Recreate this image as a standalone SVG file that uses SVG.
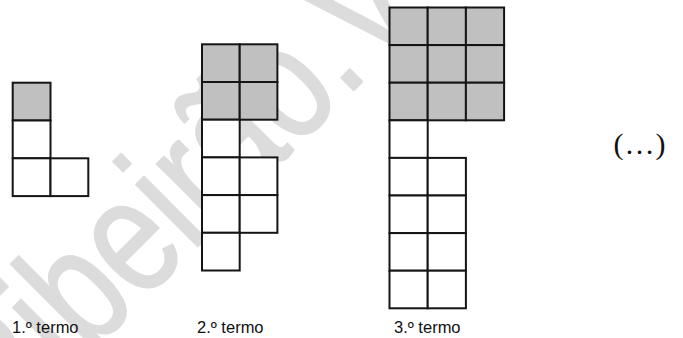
<svg xmlns="http://www.w3.org/2000/svg" width="683" height="338" viewBox="0 0 683 338">
<style>
.c{stroke:#151515;stroke-width:2;fill:#ffffff}
.g{stroke:#151515;stroke-width:2;fill:#c0c0c0}
.lbl{font-family:"Liberation Sans",Arial,sans-serif;font-size:16.5px;fill:#111}
.wm{font-family:"Liberation Sans",Arial,sans-serif;font-size:165px;fill:#dcdcdc;stroke:#dcdcdc;stroke-width:2;stroke-linejoin:round;stroke-linecap:round}
.etc{font-family:"Liberation Serif","Times New Roman",serif;font-size:30px;letter-spacing:1px;fill:#111}
</style>
<rect width="683" height="338" fill="#ffffff"/>
<text class="wm" transform="translate(2,442) rotate(-45) scale(0.79,1)">Ribeirão.V</text>
<g id="termo1">
<rect class="g" x="12.7" y="82.7" width="37.8" height="37.8"/>
<rect class="c" x="12.7" y="120.5" width="37.8" height="37.8"/>
<rect class="c" x="12.7" y="158.3" width="37.8" height="37.8"/>
<rect class="c" x="50.5" y="158.3" width="37.8" height="37.8"/>
<text class="lbl" x="12" y="333">1.º termo</text>
</g>
<g id="termo2">
<rect class="g" x="202" y="44.3" width="37.7" height="37.7"/>
<rect class="g" x="239.7" y="44.3" width="37.7" height="37.7"/>
<rect class="g" x="202" y="82" width="37.7" height="37.7"/>
<rect class="g" x="239.7" y="82" width="37.7" height="37.7"/>
<rect class="c" x="202" y="119.7" width="37.7" height="37.7"/>
<rect class="c" x="202" y="157.4" width="37.7" height="37.7"/>
<rect class="c" x="239.7" y="157.4" width="37.7" height="37.7"/>
<rect class="c" x="202" y="195.1" width="37.7" height="37.7"/>
<rect class="c" x="239.7" y="195.1" width="37.7" height="37.7"/>
<rect class="c" x="202" y="232.8" width="37.7" height="37.7"/>
<text class="lbl" x="197" y="333">2.º termo</text>
</g>
<g id="termo3">
<rect class="g" x="389.5" y="7.5" width="38.2" height="37.6"/>
<rect class="g" x="427.7" y="7.5" width="38.2" height="37.6"/>
<rect class="g" x="465.9" y="7.5" width="38.2" height="37.6"/>
<rect class="g" x="389.5" y="45.1" width="38.2" height="37.6"/>
<rect class="g" x="427.7" y="45.1" width="38.2" height="37.6"/>
<rect class="g" x="465.9" y="45.1" width="38.2" height="37.6"/>
<rect class="g" x="389.5" y="82.7" width="38.2" height="37.6"/>
<rect class="g" x="427.7" y="82.7" width="38.2" height="37.6"/>
<rect class="g" x="465.9" y="82.7" width="38.2" height="37.6"/>
<rect class="c" x="389.5" y="120.3" width="38.2" height="37.6"/>
<rect class="c" x="389.5" y="157.9" width="38.2" height="37.6"/>
<rect class="c" x="427.7" y="157.9" width="38.2" height="37.6"/>
<rect class="c" x="389.5" y="195.5" width="38.2" height="37.6"/>
<rect class="c" x="427.7" y="195.5" width="38.2" height="37.6"/>
<rect class="c" x="389.5" y="233.1" width="38.2" height="37.6"/>
<rect class="c" x="427.7" y="233.1" width="38.2" height="37.6"/>
<rect class="c" x="389.5" y="270.7" width="38.2" height="37.6"/>
<rect class="c" x="427.7" y="270.7" width="38.2" height="37.6"/>
<text class="lbl" x="394" y="333">3.º termo</text>
</g>
<g id="connectors"></g>
<text class="etc" x="640" y="154" text-anchor="middle">(…)</text>
</svg>
